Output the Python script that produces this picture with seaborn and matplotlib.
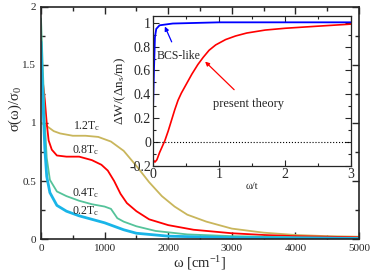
import matplotlib
matplotlib.use("Agg")
import matplotlib.pyplot as plt
import seaborn as sns
import pandas as pd

# ---- main panel data ----
w_12 = [0, 50, 100, 200, 300, 500, 700, 900, 1100, 1300, 1500, 1700, 1900, 2100, 2300, 2600, 3000, 3500, 4000, 4500, 5000]
s_12 = [1.0, 0.99, 0.97, 0.93, 0.91, 0.89, 0.89, 0.88, 0.84, 0.76, 0.63, 0.49, 0.37, 0.28, 0.21, 0.15, 0.09, 0.055, 0.035, 0.025, 0.02]

w_08 = [0, 30, 60, 90, 120, 170, 250, 400, 600, 800, 950, 1050, 1150, 1250, 1350, 1500, 1700, 2000, 2400, 3000, 3500, 4000, 5000]
s_08 = [1.5, 1.35, 1.2, 1.0, 0.85, 0.77, 0.72, 0.71, 0.71, 0.68, 0.64, 0.59, 0.5, 0.39, 0.31, 0.24, 0.17, 0.12, 0.08, 0.05, 0.035, 0.025, 0.015]

w_04 = [0, 20, 40, 60, 90, 140, 250, 400, 600, 800, 1000, 1100, 1150, 1200, 1300, 1500, 1800, 2300, 3000, 4000, 5000]
s_04 = [1.9, 1.6, 1.3, 1.0, 0.7, 0.51, 0.41, 0.37, 0.33, 0.3, 0.28, 0.26, 0.22, 0.18, 0.15, 0.11, 0.07, 0.04, 0.025, 0.015, 0.01]

w_02 = [0, 20, 40, 60, 90, 140, 250, 400, 600, 800, 1000, 1100, 1200, 1300, 1500, 2000, 3000, 5000]
s_02 = [1.7, 1.35, 1.05, 0.78, 0.54, 0.4, 0.29, 0.24, 0.2, 0.17, 0.14, 0.12, 0.1, 0.08, 0.05, 0.025, 0.012, 0.005]

curve_labels = ["1.2T$_\\mathrm{c}$", "0.8T$_\\mathrm{c}$", "0.4T$_\\mathrm{c}$", "0.2T$_\\mathrm{c}$"]

# ---- inset data ----
x_bcs = [0, 0.015, 0.03, 0.05, 0.1, 0.3, 1.0, 2.0, 3.0]
y_bcs = [0.25, 0.6, 0.88, 0.95, 0.98, 0.995, 1.005, 1.005, 1.005]

x_th = [0, 0.03, 0.06, 0.1, 0.14, 0.18, 0.23, 0.28, 0.33, 0.38, 0.43, 0.48, 0.53, 0.59, 0.68, 0.76, 0.85, 0.95, 1.1, 1.25, 1.42, 1.7, 2.0, 2.42, 3.0]
y_th = [-0.15, -0.17, -0.15, -0.09, -0.04, 0.01, 0.09, 0.18, 0.27, 0.35, 0.41, 0.46, 0.51, 0.57, 0.65, 0.71, 0.77, 0.815, 0.86, 0.89, 0.915, 0.94, 0.955, 0.97, 0.99]

sns.set_style("ticks")
plt.rcParams['font.family'] = ['Liberation Serif', 'DejaVu Serif']
plt.rcParams['mathtext.fontset'] = 'custom'
plt.rcParams['mathtext.rm'] = 'Liberation Serif'
plt.rcParams['mathtext.it'] = 'Liberation Serif:italic'

fig = plt.figure(figsize=(3.74, 2.77), dpi=100)
ax = fig.add_axes([0.1096, 0.137, 0.8504, 0.838])

colors = ['#c9b65c', '#ff0000', '#55c39a', '#19b5e8']
widths = [1.3, 1.3, 1.3, 2.0]
series = [(w_12, s_12), (w_08, s_08), (w_04, s_04), (w_02, s_02)]
for (w, s), c, lw in zip(series, colors, widths):
    df = pd.DataFrame({'w': w, 's': s})
    sns.lineplot(data=df, x='w', y='s', ax=ax, color=c, linewidth=lw, sort=False)

ax.set_xlim(0, 5000)
ax.set_ylim(0, 2)
ax.set_xticks([0, 1000, 2000, 3000, 4000, 5000])
ax.set_xticks([500, 1500, 2500, 3500, 4500], minor=True)
ax.set_yticks([0, 0.5, 1, 1.5, 2])
ax.set_yticklabels(['0', '0.5', '1', '1.5', '2'])
ax.set_yticks([0.25, 0.75, 1.25, 1.75], minor=True)
ax.tick_params(which='both', direction='in', top=True, right=True, labelsize=8, width=1.0)
ax.tick_params(which='major', length=5)
ax.tick_params(which='minor', length=3)
for sp in ax.spines.values():
    sp.set_linewidth(1.2)
ax.set_xlabel("ω [cm$^\\mathrm{-1}$]", fontsize=10.5, labelpad=1)
ax.set_ylabel("σ(ω)/σ$_\\mathrm{0}$", fontsize=10.5)
ax.yaxis.set_label_coords(-0.052, 0.56)

label_pos = [(720, 0.97), (700, 0.77), (700, 0.40), (700, 0.24)]
for (px, py), t in zip(label_pos, curve_labels):
    ax.text(px, py, t, fontsize=8.5, ha='center', va='center')

# ---- inset ----
ins = fig.add_axes([0.409, 0.402, 0.5295, 0.541])
sns.lineplot(x=x_bcs, y=y_bcs, ax=ins, color='#0000ff', linewidth=1.3)
sns.lineplot(x=x_th, y=y_th, ax=ins, color='#ff0000', linewidth=1.2)
ins.axhline(0, color='black', linestyle=':', linewidth=0.8)
ins.set_xlim(0, 3)
ins.set_ylim(-0.2, 1.06)
ins.set_xticks([0, 1, 2, 3])
ins.set_xticks([0.5, 1.5, 2.5], minor=True)
ins.set_yticks([-0.2, 0, 0.2, 0.4, 0.6, 0.8, 1.0])
ins.set_yticklabels(['-0.2', '0', '0.2', '0.4', '0.6', '0.8', '1'])
ins.set_yticks([-0.1, 0.1, 0.3, 0.5, 0.7, 0.9], minor=True)
ins.tick_params(which='both', direction='in', top=True, right=True, labelsize=10, width=0.8, pad=1.5)
ins.tick_params(which='major', length=4)
ins.tick_params(which='minor', length=2.5)
for sp in ins.spines.values():
    sp.set_linewidth(0.9)
ins.set_xlabel("ω/t", fontsize=7.5, labelpad=1)
ins.set_ylabel("ΔW/(Δn$_\\mathrm{s}$/m)", fontsize=9.5, labelpad=1)

ins.annotate("BCS-like", xy=(0.18, 0.97), xytext=(0.38, 0.72), fontsize=8.5,
             ha='center', va='center',
             arrowprops=dict(arrowstyle='-|>', color='#0000ff', lw=0.9,
                             shrinkA=4, shrinkB=0, mutation_scale=6))
ins.annotate("present theory", xy=(0.79, 0.675), xytext=(1.45, 0.32), fontsize=9,
             ha='center', va='center',
             arrowprops=dict(arrowstyle='-|>', color='#ff0000', lw=0.9,
                             shrinkA=5, shrinkB=0, mutation_scale=6))

fig.savefig("out.png", dpi=100)
